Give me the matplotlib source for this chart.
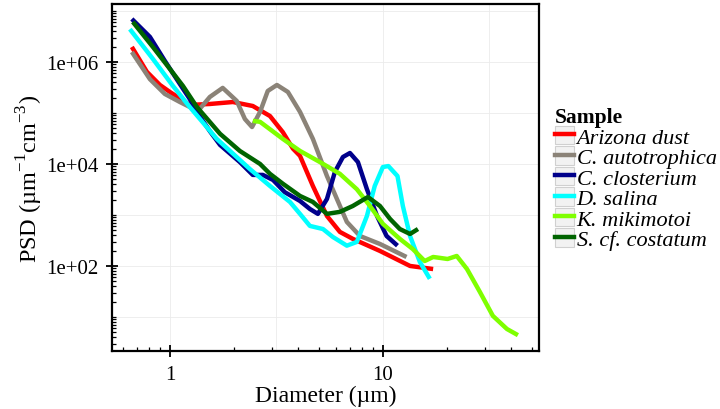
import numpy as np
import matplotlib
matplotlib.use('Agg')
import matplotlib.pyplot as plt
from matplotlib.lines import Line2D
from matplotlib.patches import Patch
from matplotlib.legend_handler import HandlerTuple
from matplotlib.ticker import FixedLocator, NullFormatter

# ================= data =================
samples = ['Arizona dust', 'C. autotrophica', 'C. closterium',
           'D. salina', 'K. mikimotoi', 'S. cf. costatum']
colors = ['#FF0000', '#8B8378', '#00008B', '#00FFFF', '#7FFF00', '#006400']

# diameter in um, PSD in um^-1 cm^-3
d_arizona = [0.663, 0.78, 0.898, 1.0, 1.24, 1.54, 1.976, 2.45, 2.95, 3.39, 3.78, 4.08,
             4.69, 5.46, 6.28, 7.22, 9.68, 13.4, 17.2]
psd_arizona = [1.97e6, 6.4e5, 3.54e5, 2.58e5, 1.44e5, 1.5e5, 1.64e5, 1.37e5, 8.7e4, 4.2e4,
               2.0e4, 1.44e4, 3.7e3, 955, 465, 340, 197, 100, 87]

d_autotro = [0.663, 0.806, 0.947, 1.114, 1.354, 1.54, 1.77, 2.06, 2.25, 2.43, 2.65, 2.88,
             3.18, 3.58, 4.08, 4.69, 5.46, 6.08, 6.77, 7.80, 9.68, 12.9]
psd_autotro = [1.57e6, 4.6e5, 2.36e5, 1.64e5, 1.09e5, 2.06e5, 3.1e5, 1.72e5, 7.6e4, 5.3e4,
               1.05e5, 2.7e5, 3.54e5, 2.58e5, 1.05e5, 3.1e4, 5.8e3, 2.06e3, 730, 387, 270, 150]

d_closter = [0.663, 0.806, 0.947, 1.114, 1.24, 1.38, 1.54, 1.72, 2.13, 2.45, 2.73, 3.05,
             3.46, 4.08, 4.54, 4.95, 5.46, 5.95, 6.49, 7.00, 7.63, 8.41, 9.38, 10.4, 11.7]
psd_closter = [6.97e6, 3.1e6, 1.05e6, 3.7e5, 1.88e5, 8.7e4, 4.4e4, 2.36e4, 1.09e4, 6.1e3,
               6.1e3, 4.85e3, 2.8e3, 1.88e3, 1.31e3, 1.05e3, 2.06e3, 7.0e3, 1.37e4, 1.64e4,
               1.09e4, 3.2e3, 955, 387, 250]

d_salina = [0.649, 0.832, 1.033, 1.24, 1.66, 2.37, 2.95, 3.66, 4.08, 4.54, 5.23, 5.82,
            6.77, 7.54, 8.41, 9.15, 9.99, 10.6, 11.7, 12.4, 13.4, 14.9, 16.6]
psd_salina = [4.4e6, 1.15e6, 3.4e5, 1.31e5, 3.1e4, 8.0e3, 3.7e3, 1.8e3, 1.05e3, 610, 530, 370,
              250, 296, 955, 3.7e3, 8.7e3, 9.1e3, 5.8e3, 1.5e3, 387, 120, 56]

d_mikimo = [2.45, 2.65, 3.39, 4.08, 5.06, 6.28, 7.54, 8.69, 9.99, 12.0, 13.8, 15.7,
            17.2, 18.5, 20.1, 22.2, 24.8, 28.5, 32.8, 38.2, 43.0]
psd_mikimo = [7.0e4, 6.7e4, 3.1e4, 1.8e4, 1.09e4, 6.4e3, 3.2e3, 1.5e3, 670, 340, 215, 125,
              150, 144, 137, 157, 87, 31, 10.5, 5.8, 4.4]

d_costat = [0.670, 0.832, 1.0, 1.151, 1.339, 1.72, 2.13, 2.65, 2.95, 3.39, 4.08, 4.69,
            5.46, 6.28, 7.22, 8.5, 9.68, 10.8, 12.0, 13.4, 14.6]
psd_costat = [6.1e6, 1.97e6, 7.3e5, 3.4e5, 1.31e5, 3.9e4, 1.8e4, 1.0e4, 6.4e3, 4.1e3,
              2.36e3, 1.8e3, 1.05e3, 1.15e3, 1.5e3, 2.25e3, 1.5e3, 835, 530, 424, 530]

diameters = [d_arizona, d_autotro, d_closter, d_salina, d_mikimo, d_costat]
psds = [psd_arizona, psd_autotro, psd_closter, psd_salina, psd_mikimo, psd_costat]

# ================= style =================
plt.rcParams['font.family'] = ['Liberation Serif', 'DejaVu Serif']
plt.rcParams['mathtext.fontset'] = 'custom'
plt.rcParams['mathtext.rm'] = 'Liberation Serif'

fig = plt.figure(figsize=(7.2, 4.1), dpi=100)
ax = fig.add_axes([112 / 720, 1 - 352 / 410, (539 - 112) / 720, (352 - 5) / 410])

for d, p, c in zip(diameters, psds, colors):
    ax.plot(d, p, color=c, linewidth=3.2, solid_capstyle='butt', solid_joinstyle='round')

ax.set_xscale('log')
ax.set_yscale('log')
ax.set_xlim(0.535, 54)
ax.set_ylim(2.15, 1.37e7)

# grid like ggplot (major + half-decade minor)
for gx in [10 ** -0.5, 1, 10 ** 0.5, 10, 10 ** 1.5]:
    ax.axvline(gx, color='#EBEBEB', linewidth=0.6, zorder=0)
for gy in [10, 1e2, 1e3, 1e4, 1e5, 1e6, 1e7]:
    ax.axhline(gy, color='#EBEBEB', linewidth=0.6, zorder=0)

# ticks
ax.xaxis.set_major_locator(FixedLocator([1, 10]))
ax.set_xticklabels(['1', '10'])
xminor = [m * 10.0 ** e for e in (-1, 0, 1) for m in range(2, 10)]
ax.xaxis.set_minor_locator(FixedLocator(xminor))
ax.xaxis.set_minor_formatter(NullFormatter())

ax.yaxis.set_major_locator(FixedLocator([1e2, 1e4, 1e6]))
ax.set_yticklabels(['1e+02', '1e+04', '1e+06'])
yminor = [m * 10.0 ** e for e in range(0, 8) for m in range(1, 10) if not (m == 1 and e in (2, 4, 6))]
ax.yaxis.set_minor_locator(FixedLocator(yminor))
ax.yaxis.set_minor_formatter(NullFormatter())

ax.tick_params(which='major', direction='inout', length=8, width=1.3, labelsize=15)
ax.tick_params(axis='y', which='major', pad=5.5)
ax.tick_params(axis='x', which='major', pad=6)
ax.tick_params(which='minor', direction='in', length=3, width=0.9)
for s in ax.spines.values():
    s.set_linewidth(1.6)

ax.set_xlabel('Diameter (µm)', fontsize=17, labelpad=1)
ax.set_ylabel('PSD (µm$^{-1}$cm$^{-3}$)', fontsize=17.5, labelpad=1)

# legend with grey key boxes
handles = [(Patch(facecolor='#F2F2F2', edgecolor='#D0D0D0', linewidth=0.8),
            Line2D([], [], color=c, linewidth=3.2)) for c in colors]
leg = fig.legend(handles, samples, loc='upper left', bbox_to_anchor=(555 / 720, 1 - 108 / 410),
                 frameon=False, title='Sample', alignment='left',
                 handler_map={tuple: HandlerTuple(ndivide=1)},
                 prop={'style': 'italic', 'size': 16},
                 title_fontproperties={'weight': 'bold', 'size': 15.5},
                 handlelength=0.85, handleheight=0.9, handletextpad=0.12,
                 labelspacing=-0.06, borderpad=0, borderaxespad=0)
leg._legend_handle_box.sep = 0  # keep title tight to first entry
fig.savefig('out.png', dpi=100)
